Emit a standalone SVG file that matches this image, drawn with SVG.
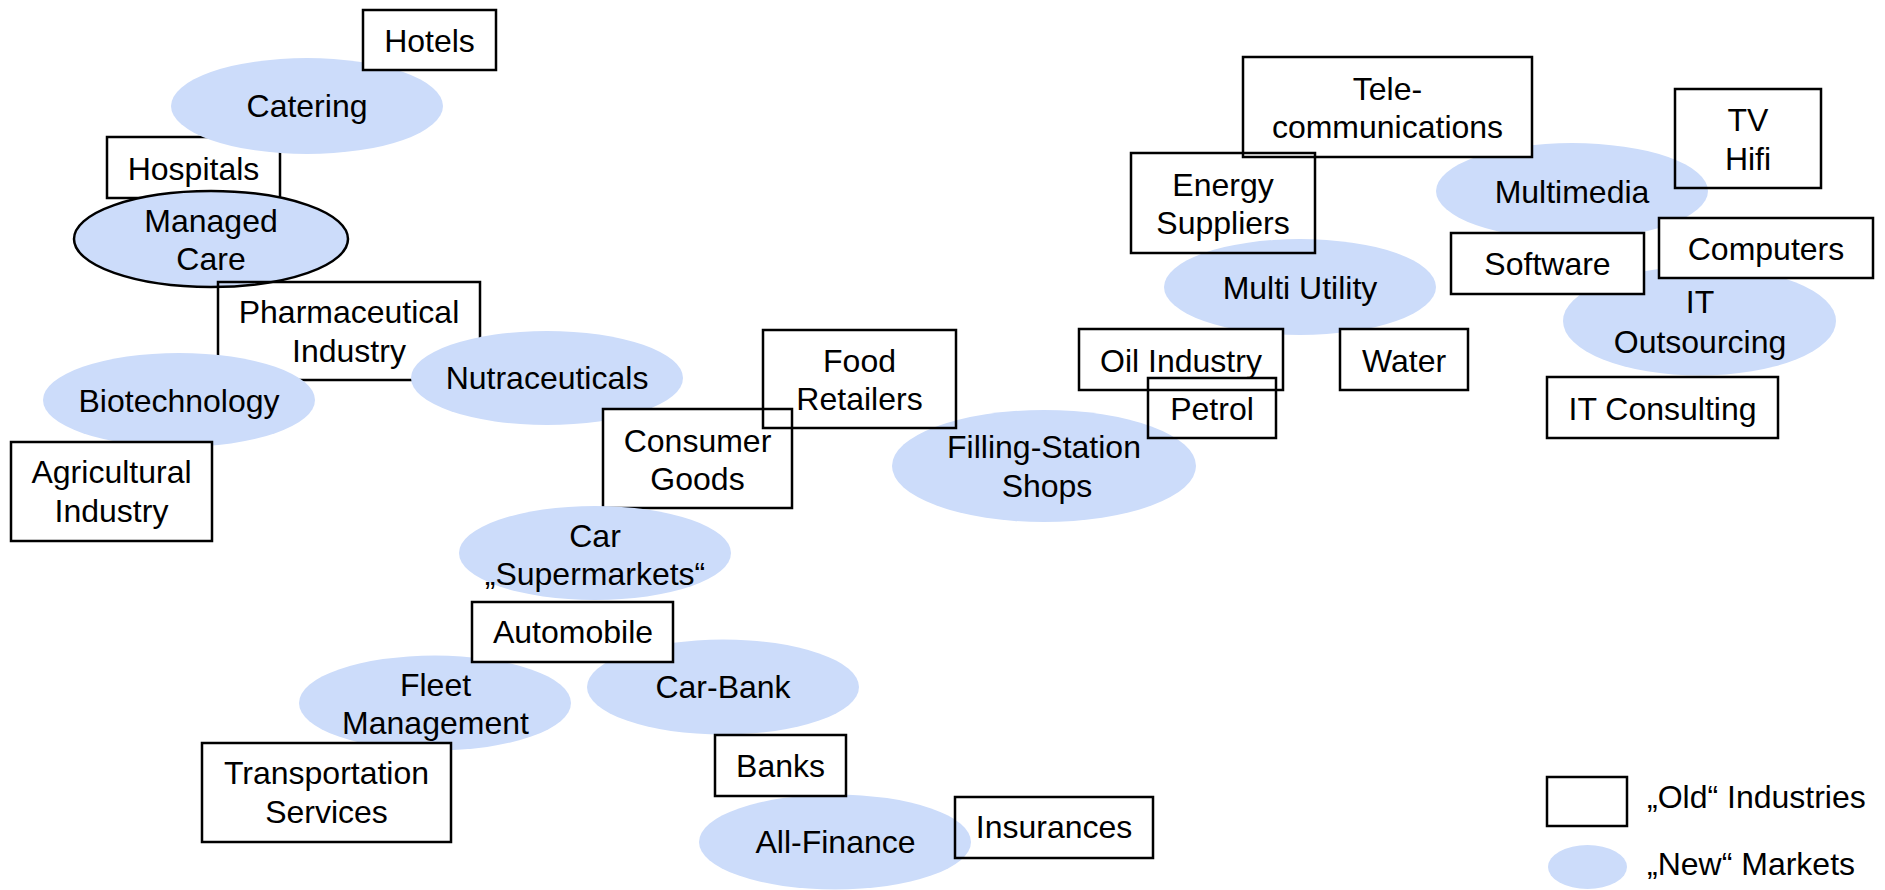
<svg xmlns="http://www.w3.org/2000/svg" width="1885" height="890" viewBox="0 0 1885 890">
  <style>
    .box { fill: #ffffff; stroke: #000000; stroke-width: 2.5; }
    .open { fill: none; }
    .mkt { fill: #CCDCFA; stroke: none; }
    .mkt-outline { fill: #CCDCFA; stroke: #000000; stroke-width: 2.5; }
    text { font-family: "Liberation Sans", Arial, sans-serif; font-size: 32px; fill: #000000; }
    .c { text-anchor: middle; }
  </style>

  <!-- Health cluster -->
  <g id="hospitals"><rect class="box" x="107" y="137" width="173" height="61"/><text class="c" x="193.5" y="180">Hospitals</text></g>
  <g id="managed-care"><ellipse class="mkt-outline" cx="211" cy="239" rx="137" ry="48"/><text class="c" x="211" y="232">Managed</text><text class="c" x="211" y="270">Care</text></g>
  <g id="pharmaceutical-industry"><rect class="box open" x="218" y="282" width="262" height="98"/><text class="c" x="349" y="323">Pharmaceutical</text><text class="c" x="349" y="362">Industry</text></g>
  <g id="catering"><ellipse class="mkt" cx="307" cy="106" rx="136" ry="48"/><text class="c" x="307" y="117">Catering</text></g>
  <g id="hotels"><rect class="box" x="363" y="10" width="133" height="60"/><text class="c" x="429.5" y="52">Hotels</text></g>
  <g id="biotechnology"><ellipse class="mkt" cx="179" cy="400" rx="136" ry="47"/><text class="c" x="179" y="412">Biotechnology</text></g>
  <g id="nutraceuticals"><ellipse class="mkt" cx="547" cy="378" rx="136" ry="47"/><text class="c" x="547" y="389">Nutraceuticals</text></g>
  <g id="agricultural-industry"><rect class="box" x="11" y="442" width="201" height="99"/><text class="c" x="111.5" y="483">Agricultural</text><text class="c" x="111.5" y="522">Industry</text></g>

  <!-- Retail and automotive cluster -->
  <g id="consumer-goods"><rect class="box" x="603" y="409" width="189" height="99"/><text class="c" x="697.5" y="452">Consumer</text><text class="c" x="697.5" y="490">Goods</text></g>
  <g id="car-supermarkets"><ellipse class="mkt" cx="595" cy="553" rx="136" ry="47"/><text class="c" x="595" y="547">Car</text><text class="c" x="595" y="585">„Supermarkets“</text></g>
  <g id="filling-station-shops"><ellipse class="mkt" cx="1044" cy="466" rx="152" ry="56"/><text class="c" x="1044" y="458">Filling-Station</text><text class="c" x="1047" y="497">Shops</text></g>
  <g id="food-retailers"><rect class="box open" x="763" y="330" width="193" height="98"/><text class="c" x="859.5" y="372">Food</text><text class="c" x="859.5" y="410">Retailers</text></g>
  <g id="fleet-management"><ellipse class="mkt" cx="435" cy="703" rx="136" ry="47.5"/><text class="c" x="435.5" y="696">Fleet</text><text class="c" x="435.5" y="734">Management</text></g>
  <g id="car-bank"><ellipse class="mkt" cx="723" cy="687" rx="136" ry="47.5"/><text class="c" x="723" y="698">Car-Bank</text></g>
  <g id="all-finance"><ellipse class="mkt" cx="835" cy="842" rx="136" ry="47.5"/><text class="c" x="835.5" y="853">All-Finance</text></g>
  <g id="automobile"><rect class="box" x="472" y="602" width="201" height="60"/><text class="c" x="573" y="643">Automobile</text></g>
  <g id="transportation-services"><rect class="box" x="202" y="743" width="249" height="99"/><text class="c" x="326.5" y="784">Transportation</text><text class="c" x="326.5" y="823">Services</text></g>
  <g id="banks"><rect class="box" x="715" y="735" width="131" height="61"/><text class="c" x="780.5" y="777">Banks</text></g>
  <g id="insurances"><rect class="box open" x="955" y="797" width="198" height="61"/><text class="c" x="1054" y="838">Insurances</text></g>

  <!-- Utilities, telecom and IT cluster -->
  <g id="multi-utility"><ellipse class="mkt" cx="1300" cy="287" rx="136" ry="48"/><text class="c" x="1300" y="299">Multi Utility</text></g>
  <g id="multimedia"><ellipse class="mkt" cx="1572" cy="191" rx="136" ry="48"/><text class="c" x="1572" y="203">Multimedia</text></g>
  <g id="it-outsourcing"><ellipse class="mkt" cx="1699.5" cy="321" rx="136.5" ry="54.5"/><text class="c" x="1700" y="313">IT</text><text class="c" x="1700" y="353">Outsourcing</text></g>
  <g id="telecommunications"><rect class="box" x="1243" y="57" width="289" height="100"/><text class="c" x="1387.5" y="100">Tele-</text><text class="c" x="1387.5" y="138">communications</text></g>
  <g id="energy-suppliers"><rect class="box open" x="1131" y="153" width="184" height="100"/><text class="c" x="1223" y="196">Energy</text><text class="c" x="1223" y="234">Suppliers</text></g>
  <g id="oil-industry"><rect class="box" x="1079" y="329" width="204" height="61"/><text class="c" x="1181" y="372">Oil Industry</text></g>
  <g id="petrol"><rect class="box open" x="1148" y="378" width="128" height="60"/><text class="c" x="1212" y="420">Petrol</text></g>
  <g id="water"><rect class="box" x="1340" y="329" width="128" height="61"/><text class="c" x="1404" y="372">Water</text></g>
  <g id="tv-hifi"><rect class="box open" x="1675" y="89" width="146" height="99"/><text class="c" x="1748" y="131">TV</text><text class="c" x="1748" y="170">Hifi</text></g>
  <g id="software"><rect class="box" x="1451" y="233" width="193" height="61"/><text class="c" x="1547.5" y="275">Software</text></g>
  <g id="computers"><rect class="box" x="1659" y="218" width="214" height="60"/><text class="c" x="1766" y="260">Computers</text></g>
  <g id="it-consulting"><rect class="box" x="1547" y="377" width="231" height="61"/><text class="c" x="1662.5" y="420">IT Consulting</text></g>

  <!-- Legend -->
  <g id="legend">
    <rect class="box" x="1547" y="777" width="80" height="49"/>
    <text x="1647" y="808">„Old“ Industries</text>
    <ellipse class="mkt" cx="1587.5" cy="867" rx="39.5" ry="22"/>
    <text x="1647" y="875">„New“ Markets</text>
  </g>
</svg>
